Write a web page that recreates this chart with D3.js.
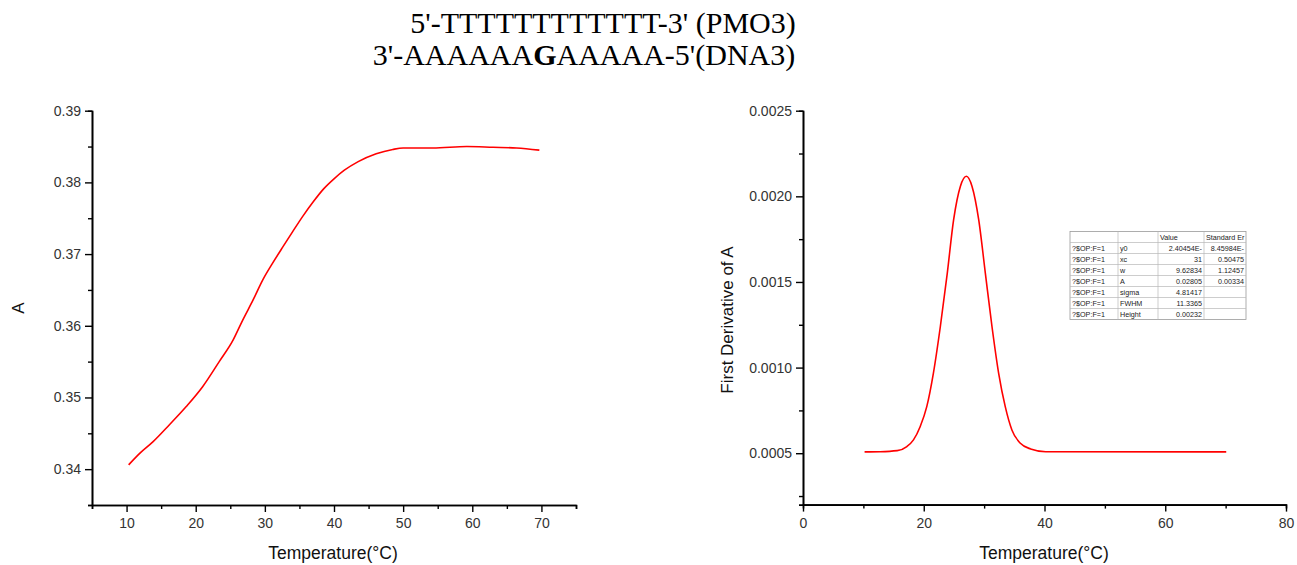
<!DOCTYPE html>
<html><head><meta charset="utf-8">
<script src="https://cdn.jsdelivr.net/npm/d3@7"></script>
<style>
html,body{margin:0;padding:0;background:#fff;}
svg{display:block;}
</style></head>
<body>
<svg id="chart" width="1297" height="565"></svg>
<script>
// ---- data ----
const meltTemp = [10.3, 11.9, 13.8, 16.2, 18.6, 21.0, 23.4, 25.4, 26.8, 28.3, 29.7, 31.1, 32.6, 34.0, 35.5, 37.0, 38.5, 40.0, 41.5, 43.5, 46.1, 48.5, 50.0, 54.3, 59.2, 63.0, 66.4, 69.7];
const absorbance = [0.3406, 0.3422, 0.3438, 0.3462, 0.3487, 0.3515, 0.3550, 0.3580, 0.3608, 0.3636, 0.3664, 0.3687, 0.3710, 0.3731, 0.3753, 0.3773, 0.3791, 0.3805, 0.3817, 0.3829, 0.3840, 0.3846, 0.3848, 0.3848, 0.3850, 0.3849, 0.3848, 0.3845];
const derivTemp = [10.2, 12.8, 15.6, 17.2, 18.3, 19.4, 20.5, 21.6, 22.75, 23.9, 24.95, 26.06, 27.06, 28.0, 29.1, 30.2, 31.3, 32.4, 33.5, 34.6, 36.0, 37.7, 40.2, 70.1];
const derivative = [0.000508, 0.000509, 0.000515, 0.000539, 0.000578, 0.000655, 0.000772, 0.000968, 0.00124, 0.001552, 0.001864, 0.002058, 0.002117, 0.002058, 0.001864, 0.001552, 0.00124, 0.000968, 0.000772, 0.000636, 0.000558, 0.000525, 0.000509, 0.000508];

const leftXTicks = [10, 20, 30, 40, 50, 60, 70];
const leftXMinor = [5, 15, 25, 35, 45, 55, 65, 75];
const leftYTicks = [0.34, 0.35, 0.36, 0.37, 0.38, 0.39];
const leftYMinor = [0.335, 0.345, 0.355, 0.365, 0.375, 0.385];
const rightXTicks = [0, 20, 40, 60, 80];
const rightXMinor = [10, 30, 50, 70];
const rightYTicks = [0.0005, 0.0010, 0.0015, 0.0020, 0.0025];
const rightYMinor = [0.00025, 0.00075, 0.00125, 0.00175, 0.00225];

const tableHeader = ["", "", "Value", "Standard Er"];
const tableSource = ["?$OP:F=1", "?$OP:F=1", "?$OP:F=1", "?$OP:F=1", "?$OP:F=1", "?$OP:F=1", "?$OP:F=1"];
const tableParam = ["y0", "xc", "w", "A", "sigma", "FWHM", "Height"];
const tableValue = ["2.40454E-", "31", "9.62834", "0.02805", "4.81417", "11.3365", "0.00232"];
const tableError = ["8.45984E-", "0.50475", "1.12457", "0.00334", "", "", ""];

const titleLine1 = "5'-TTTTTTTTTTTT-3' (PMO3)";
const titleLine2 = ["3'-AAAAAA", "G", "AAAAA-5'(DNA3)"];

// ---- drawing ----
const svg = d3.select("#chart");
const sans = "'Liberation Sans', Arial, sans-serif";

// title
const title = svg.append("g").attr("font-family", "'Liberation Serif', 'Times New Roman', serif")
  .attr("font-size", 30).attr("fill", "#000");
title.append("text").attr("x", 603).attr("y", 33).attr("text-anchor", "middle").text(titleLine1);
const t2 = title.append("text").attr("x", 584).attr("y", 65).attr("text-anchor", "middle");
t2.append("tspan").text(titleLine2[0]);
t2.append("tspan").attr("font-weight", "bold").text(titleLine2[1]);
t2.append("tspan").text(titleLine2[2]);

function styleAxis(g) {
  g.selectAll("path.domain").attr("stroke", "#000").attr("stroke-width", 1.6);
  g.selectAll(".tick line").attr("stroke", "#000").attr("stroke-width", 1.4);
  g.selectAll(".tick text").attr("fill", "#333").attr("font-family", sans).attr("font-size", 14);
}

function panel(opts) {
  const x = d3.scaleLinear().domain(opts.xDomain).range(opts.xRange);
  const y = d3.scaleLinear().domain(opts.yDomain).range(opts.yRange);
  const g = svg.append("g");

  // minor ticks
  g.append("g").attr("transform", `translate(0,${opts.yRange[0]})`)
    .call(d3.axisBottom(x).tickValues(opts.xMinor).tickSize(4).tickFormat(""))
    .call(styleAxis);
  g.append("g").attr("transform", `translate(${opts.xRange[0]},0)`)
    .call(d3.axisLeft(y).tickValues(opts.yMinor).tickSize(4).tickFormat(""))
    .call(styleAxis);
  // major ticks
  g.append("g").attr("transform", `translate(0,${opts.yRange[0]})`)
    .call(d3.axisBottom(x).tickValues(opts.xTicks).tickSize(7).tickSizeOuter(0).tickPadding(6).tickFormat(opts.xFmt))
    .call(styleAxis);
  g.append("g").attr("transform", `translate(${opts.xRange[0]},0)`)
    .call(d3.axisLeft(y).tickValues(opts.yTicks).tickSize(7).tickSizeOuter(0).tickPadding(4).tickFormat(opts.yFmt))
    .call(styleAxis);

  // line
  const pts = opts.xs.map((d, i) => [d, opts.ys[i]]);
  g.append("path").datum(pts)
    .attr("fill", "none").attr("stroke", "#ff0000").attr("stroke-width", 1.6)
    .attr("d", d3.line().x(d => x(d[0])).y(d => y(d[1])).curve(d3.curveMonotoneX));

  // axis titles
  g.append("text").attr("x", opts.xTitleX).attr("y", 559).attr("text-anchor", "middle")
    .attr("font-family", sans).attr("font-size", 17.5).attr("fill", "#111")
    .text("Temperature(\u00B0C)");
  g.append("text").attr("transform", `translate(${opts.yTitleX},${opts.yTitleY}) rotate(-90)`)
    .attr("text-anchor", "middle")
    .attr("font-family", sans).attr("font-size", 17).attr("fill", "#111")
    .text(opts.yTitle);
  return {x, y};
}

panel({
  xDomain: [5, 75], xRange: [92, 576],
  yDomain: [0.335, 0.39], yRange: [505, 110.7],
  xTicks: leftXTicks, xMinor: leftXMinor, yTicks: leftYTicks, yMinor: leftYMinor,
  xFmt: d3.format("d"), yFmt: d3.format(".2f"),
  xs: meltTemp, ys: absorbance,
  xTitleX: 333, yTitleX: 24, yTitleY: 308, yTitle: "A"
});

panel({
  xDomain: [0, 80], xRange: [803, 1286],
  yDomain: [0.0002, 0.0025], yRange: [504.6, 110.7],
  xTicks: rightXTicks, xMinor: rightXMinor, yTicks: rightYTicks, yMinor: rightYMinor,
  xFmt: d3.format("d"), yFmt: d3.format(".4f"),
  xs: derivTemp, ys: derivative,
  xTitleX: 1044, yTitleX: 733, yTitleY: 320, yTitle: "First Derivative of A"
});

// fit-results table
const colX = [1070, 1118, 1158, 1204, 1246];
const rowH = 11;
const tableTop = 231.5;
const rows = [tableHeader].concat(tableParam.map((p, i) => [tableSource[i], p, tableValue[i], tableError[i]]));
const tg = svg.append("g").attr("font-family", sans).attr("font-size", 7.2).attr("fill", "#222");
tg.append("rect").attr("x", colX[0]).attr("y", tableTop).attr("width", colX[4] - colX[0]).attr("height", rowH * rows.length)
  .attr("fill", "#fff").attr("stroke", "#9a9a9a").attr("stroke-width", 0.8);
rows.forEach((r, i) => {
  if (i > 0) tg.append("line").attr("x1", colX[0]).attr("x2", colX[4])
    .attr("y1", tableTop + i * rowH).attr("y2", tableTop + i * rowH)
    .attr("stroke", "#b8b8b8").attr("stroke-width", 0.7);
  r.forEach((cell, j) => {
    const right = (j >= 2 && i > 0);
    tg.append("text")
      .attr("x", right ? colX[j + 1] - 2 : colX[j] + 2)
      .attr("y", tableTop + i * rowH + 8.3)
      .attr("text-anchor", right ? "end" : "start")
      .text(cell);
  });
});
[1, 2, 3].forEach(j => tg.append("line").attr("x1", colX[j]).attr("x2", colX[j])
  .attr("y1", tableTop).attr("y2", tableTop + rowH * rows.length)
  .attr("stroke", "#b8b8b8").attr("stroke-width", 0.7));
</script>
</body></html>
